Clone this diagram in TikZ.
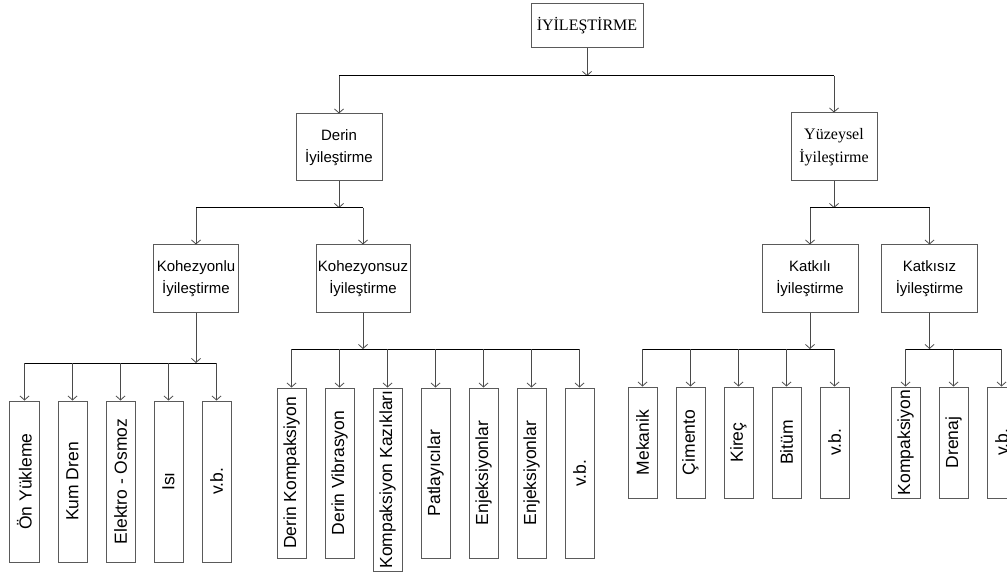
\documentclass[tikz,border=0pt]{standalone}
\usepackage{fontspec}
\usepackage{graphicx}
\setmainfont{Liberation Serif}
\setsansfont{Liberation Sans}
\usetikzlibrary{arrows.meta}
\definecolor{boxc}{HTML}{5A5A5A}
\definecolor{linec}{HTML}{4A4A4A}
\tikzset{
  box/.style={draw=boxc, line width=1bp, inner sep=0pt, align=center},
  serifbox/.style={box, font=\rmfamily\fontsize{16bp}{23bp}\selectfont},
  sansbox/.style={box, font=\sffamily\fontsize{15bp}{22bp}\selectfont},
  leaf/.style={box, minimum width=29bp, font=\sffamily\fontsize{17.5bp}{20bp}\selectfont},
  arr/.style={draw=linec, line width=1bp, -{Straight Barb[length=4bp,width=9bp,line width=0.8bp]}},
  bus/.style={draw=black, line width=1bp}
}
\begin{document}
\begin{tikzpicture}[x=1bp,y=-1bp]
\useasboundingbox (0,0) rectangle (1007,574);

% root and first level
\node[serifbox, minimum width=112bp, minimum height=44bp] (root) at (587,26) {İYİLEŞTİRME};
\node[sansbox, minimum width=86bp, minimum height=67bp] (derin) at (339,147.5) {Derin\\İyileştirme};
\node[serifbox, minimum width=86bp, minimum height=68bp] (yuz) at (834,147) {Yüzeysel\\İyileştirme};

\coordinate (j0) at (587,76);
\draw[arr] (root.south) -- (j0);
\draw[bus] (derin.north |- j0) -- (yuz.north |- j0);
\draw[arr] (derin.north |- j0) -- (derin.north);
\draw[arr] (yuz.north |- j0) -- (yuz.north);

% second level
\node[sansbox, minimum width=85bp, minimum height=67bp] (koh) at (196,278.5) {Kohezyonlu\\İyileştirme};
\node[sansbox, minimum width=94bp, minimum height=67bp] (kohsuz) at (363,278.5) {Kohezyonsuz\\İyileştirme};
\node[sansbox, minimum width=96bp, minimum height=67bp] (katli) at (810,278.5) {Katkılı\\İyileştirme};
\node[sansbox, minimum width=96bp, minimum height=67bp] (katsiz) at (929.5,278.5) {Katkısız\\İyileştirme};

\coordinate (j1) at (339,208);
\draw[arr] (derin.south) -- (j1);
\draw[bus] (koh.north |- j1) -- (kohsuz.north |- j1);
\draw[arr] (koh.north |- j1) -- (koh.north);
\draw[arr] (kohsuz.north |- j1) -- (kohsuz.north);

\coordinate (j2) at (834,208);
\draw[arr] (yuz.south) -- (j2);
\draw[bus] (katli.north |- j2) -- (katsiz.north |- j2);
\draw[arr] (katli.north |- j2) -- (katli.north);
\draw[arr] (katsiz.north |- j2) -- (katsiz.north);

% leaves under Kohezyonlu
\foreach \i/\x/\t in {1/24.5/Ön Yükleme, 2/72.5/Kum Dren, 3/120.5/Elektro - Osmoz, 4/168.5/Isı, 5/216.5/v.b.}
  \node[leaf, minimum height=161bp] (a\i) at (\x,481.5) {\rotatebox{90}{\t}};
\coordinate (ja) at (196,363);
\draw[arr] (koh.south) -- (ja);
\draw[bus] (a1.north |- ja) -- (a5.north |- ja);
\foreach \i in {1,...,5} \draw[arr] (a\i.north |- ja) -- (a\i.north);

% leaves under Kohezyonsuz
\foreach \i/\x/\t in {1/291.5/Derin Kompaksiyon, 2/339.5/Derin Vibrasyon, 4/435.5/Patlayıcılar, 5/483.5/Enjeksiyonlar, 6/531.5/Enjeksiyonlar, 7/579.5/v.b.}
  \node[leaf, minimum height=170bp] (b\i) at (\x,473) {\rotatebox{90}{\t}};
\node[leaf, minimum height=183bp] (b3) at (387.5,479.5) {\rotatebox{90}{Kompaksiyon Kazıkları}};
\coordinate (jb) at (363,349);
\draw[arr] (kohsuz.south) -- (jb);
\draw[bus] (b1.north |- jb) -- (b7.north |- jb);
\foreach \i in {1,...,7} \draw[arr] (b\i.north |- jb) -- (b\i.north);

% leaves under Katkılı
\foreach \i/\x/\t in {1/642.5/Mekanik, 2/690.5/Çimento, 3/738.5/Kireç, 4/786.5/Bitüm, 5/834.5/v.b.}
  \node[leaf, minimum height=111bp] (c\i) at (\x,442.5) {\rotatebox{90}{\t}};
\coordinate (jc) at (810,349);
\draw[arr] (katli.south) -- (jc);
\draw[bus] (c1.north |- jc) -- (c5.north |- jc);
\foreach \i in {1,...,5} \draw[arr] (c\i.north |- jc) -- (c\i.north);

% leaves under Katkısız
\foreach \i/\x/\t in {1/905.5/Kompaksiyon, 2/953.5/Drenaj, 3/1001.5/v.b.}
  \node[leaf, minimum height=111bp] (d\i) at (\x,442.5) {\rotatebox{90}{\t}};
\coordinate (jd) at (929.5,349);
\draw[arr] (katsiz.south) -- (jd);
\draw[bus] (d1.north |- jd) -- (d3.north |- jd);
\foreach \i in {1,...,3} \draw[arr] (d\i.north |- jd) -- (d\i.north);
\end{tikzpicture}
\end{document}
